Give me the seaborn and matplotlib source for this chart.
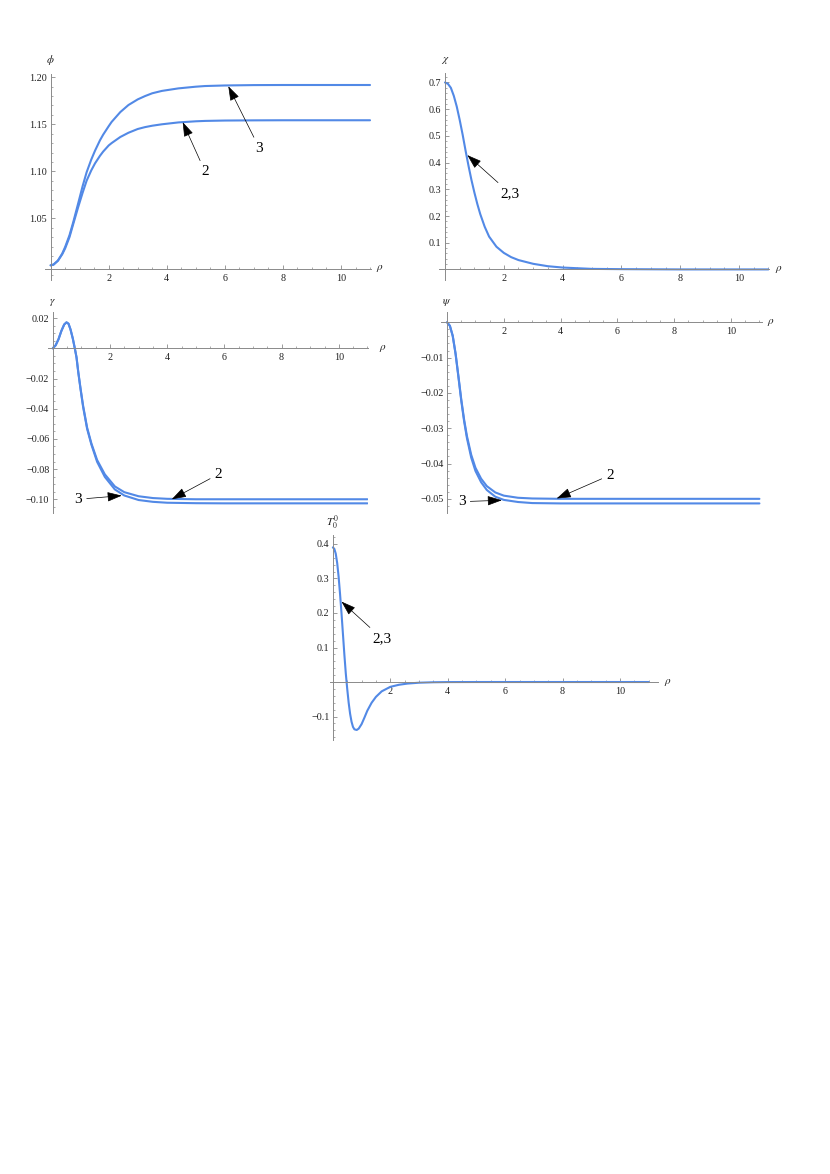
import matplotlib
matplotlib.use("Agg")
import numpy as np
import pandas as pd
import matplotlib.pyplot as plt
import seaborn as sns

# ---------------- data ----------------
rho_phi = [0, 0.1, 0.25, 0.4, 0.5, 0.65, 0.78, 0.95, 1.1, 1.24, 1.4, 1.53, 1.7, 1.81,
           2.0, 2.1, 2.4, 2.68, 3.0, 3.25, 3.5, 3.83, 4.4, 5.0, 5.32, 6.0, 7.0, 8.0,
           9.0, 10.0, 11.0]
phi_3 = [1.0000, 1.0008, 1.0050, 1.0125, 1.0195, 1.0320, 1.0460, 1.0660, 1.0840, 1.0990,
         1.1125, 1.1220, 1.1330, 1.1390, 1.1480, 1.1525, 1.1630, 1.1705, 1.1765, 1.1800,
         1.1830, 1.1855, 1.1882, 1.1900, 1.1907, 1.1913, 1.1917, 1.1918, 1.1918, 1.1918,
         1.1918]
phi_2 = [1.0000, 1.0008, 1.0048, 1.0118, 1.0180, 1.0300, 1.0440, 1.0620, 1.0770, 1.0900,
         1.1010, 1.1085, 1.1165, 1.1210, 1.1275, 1.1300, 1.1365, 1.1410, 1.1450, 1.1470,
         1.1485, 1.1500, 1.1520, 1.1532, 1.1536, 1.1540, 1.1542, 1.1543, 1.1543, 1.1543,
         1.1543]

rho_chi = [0, 0.1, 0.2, 0.3, 0.4, 0.5, 0.6, 0.7, 0.8, 0.9, 1.0, 1.1, 1.2, 1.35, 1.5,
           1.75, 2.0, 2.25, 2.5, 3.0, 3.5, 4.0, 5.0, 6.0, 8.0, 11.0]
chi_23 = [0.700, 0.695, 0.680, 0.650, 0.610, 0.560, 0.505, 0.445, 0.388, 0.335, 0.288,
          0.245, 0.207, 0.160, 0.123, 0.085, 0.062, 0.046, 0.035, 0.021, 0.012, 0.007,
          0.002, 0.001, 0.0, 0.0]

rho_gamma = [0, 0.1, 0.2, 0.3, 0.4, 0.48, 0.55, 0.62, 0.7, 0.77, 0.83, 0.89, 0.97, 1.06,
             1.2, 1.35, 1.55, 1.82, 2.17, 2.5, 3.0, 3.5, 4.0, 5.0, 6.0, 8.0, 11.0]
gamma_2 = [0, 0.002, 0.006, 0.0115, 0.0158, 0.0172, 0.0163, 0.0125, 0.0065, 0.0, -0.006,
           -0.0155, -0.0265, -0.038, -0.0525, -0.063, -0.074, -0.0835, -0.0915, -0.0953,
           -0.0980, -0.0992, -0.0997, -0.1000, -0.1000, -0.1000, -0.1000]
gamma_3 = [0, 0.002, 0.006, 0.0115, 0.0158, 0.0172, 0.0163, 0.0125, 0.0065, 0.0, -0.006,
           -0.0157, -0.027, -0.0388, -0.0533, -0.0638, -0.0752, -0.0852, -0.0935, -0.0975,
           -0.1005, -0.1017, -0.1023, -0.1026, -0.1027, -0.1027, -0.1027]

rho_psi = [0, 0.1, 0.2, 0.3, 0.4, 0.5, 0.6, 0.7, 0.85, 1.0, 1.2, 1.4, 1.7, 2.0, 2.5, 3.0,
           4.0, 5.0, 6.0, 8.0, 11.0]
psi_2 = [0, -0.0010, -0.0038, -0.0088, -0.0152, -0.0218, -0.0275, -0.0322, -0.0375,
         -0.0412, -0.0443, -0.0464, -0.0482, -0.0491, -0.0497, -0.0499, -0.0500, -0.0500,
         -0.0500, -0.0500, -0.0500]
psi_3 = [0, -0.0010, -0.0039, -0.0090, -0.0155, -0.0222, -0.0280, -0.0328, -0.0383,
         -0.0421, -0.0453, -0.0475, -0.0494, -0.0503, -0.0509, -0.0512, -0.0513, -0.0513,
         -0.0513, -0.0513, -0.0513]

rho_T = [0, 0.05, 0.1, 0.15, 0.2, 0.25, 0.3, 0.35, 0.4, 0.45, 0.5, 0.55, 0.6, 0.65, 0.7,
         0.75, 0.83, 0.9, 1.0, 1.1, 1.2, 1.35, 1.5, 1.7, 2.0, 2.3, 2.6, 3.0, 3.5, 4.0, 5.0,
         6.0, 8.0, 11.0]
T_23 = [0.39, 0.386, 0.372, 0.345, 0.305, 0.255, 0.2, 0.14, 0.08, 0.025, -0.02, -0.06,
        -0.092, -0.115, -0.13, -0.137, -0.139, -0.135, -0.122, -0.103, -0.083, -0.06,
        -0.043, -0.027, -0.014, -0.008, -0.0045, -0.002, -0.0007, -0.0002, 0, 0, 0, 0]

x_major = [2, 4, 6, 8, 10]
x_major_labels = ["2", "4", "6", "8", "10"]

phi_major = [1.05, 1.10, 1.15, 1.20]
phi_labels = ["1.05", "1.10", "1.15", "1.20"]
chi_major = [0.1, 0.2, 0.3, 0.4, 0.5, 0.6, 0.7]
chi_labels = ["0.1", "0.2", "0.3", "0.4", "0.5", "0.6", "0.7"]
gamma_major = [0.02, -0.02, -0.04, -0.06, -0.08, -0.10]
gamma_labels = ["0.02", "\u22120.02", "\u22120.04", "\u22120.06", "\u22120.08", "\u22120.10"]
psi_major = [-0.01, -0.02, -0.03, -0.04, -0.05]
psi_labels = ["\u22120.01", "\u22120.02", "\u22120.03", "\u22120.04", "\u22120.05"]
T_major = [0.4, 0.3, 0.2, 0.1, -0.1]
T_labels = ["0.4", "0.3", "0.2", "0.1", "\u22120.1"]

# ---------------- style ----------------
sns.set_style("white")
plt.rcParams["font.family"] = ["Liberation Serif", "DejaVu Serif"]
plt.rcParams["mathtext.fontset"] = "stix"

LINE = "#5289E6"
AXIS = "#8a8a8a"
W, H = 830, 1174

fig = plt.figure(figsize=(W / 100, H / 100), dpi=100)
fig.patch.set_facecolor("white")


def make_axes(left, right, top, bottom, xlim, ylim, xaxis_y, ymajor, ylabels, yminor,
              ylab, ylab_dy=5, xlab_dx=4):
    ax = fig.add_axes([left / W, 1 - bottom / H, (right - left) / W, (bottom - top) / H])
    ax.set_xlim(*xlim)
    ax.set_ylim(*ylim)
    ax.patch.set_alpha(0)
    for s in ["top", "right"]:
        ax.spines[s].set_visible(False)
    ax.spines["left"].set_position(("data", 0))
    ax.spines["bottom"].set_position(("data", xaxis_y))
    for s in ["left", "bottom"]:
        ax.spines[s].set_color(AXIS)
        ax.spines[s].set_linewidth(0.7)
    ax.set_xticks(x_major)
    ax.set_xticklabels(x_major_labels)
    ax.set_xticks([v for v in np.arange(0.5, 11.01, 0.5) if v not in x_major], minor=True)
    ax.set_yticks(ymajor)
    ax.set_yticklabels(ylabels)
    ax.set_yticks(yminor, minor=True)
    ax.tick_params(which="both", direction="in", color=AXIS, labelsize=7.3,
                   labelcolor="#222222", bottom=True, left=True, top=False, right=False)
    ax.tick_params(which="major", length=3.2, width=0.6)
    ax.tick_params(which="minor", length=1.7, width=0.5)
    ax.tick_params(axis="x", pad=3.5)
    ax.tick_params(axis="y", pad=2.5)
    ax.grid(False)
    ax.annotate(r"$\rho$", xy=(1.0, xaxis_y), xycoords=("axes fraction", "data"),
                xytext=(xlab_dx, 0), textcoords="offset points", ha="left", va="center",
                fontsize=8, color="#222222")
    ax.annotate(ylab, xy=(0, 1.0), xycoords=("data", "axes fraction"),
                xytext=(0, ylab_dy), textcoords="offset points", ha="center", va="bottom",
                fontsize=8, color="#222222")
    return ax


def line(ax, x, y):
    sns.lineplot(x=x, y=y, ax=ax, color=LINE, linewidth=1.5, sort=False, estimator=None)


def arrow(ax, text, tip, pos):
    ax.annotate(text, xy=tip, xytext=pos, fontsize=11, ha="center", va="center",
                color="black",
                arrowprops=dict(arrowstyle="-|>,head_length=0.75,head_width=0.25",
                                color="black", lw=0.5, shrinkA=1, shrinkB=0,
                                mutation_scale=12))


# Panel 1: phi
ax1 = make_axes(45.1, 370.9, 74, 280, (-0.19, 11.03), (0.9844, 1.2035), 0.9961,
                phi_major, phi_labels, np.round(np.arange(0.99, 1.2001, 0.01), 3),
                r"$\phi$")
line(ax1, rho_phi, phi_3)
line(ax1, rho_phi, phi_2)
arrow(ax1, "3", (6.12, 1.1905), (7.19, 1.1245))
arrow(ax1, "2", (4.55, 1.1523), (5.32, 1.0996))

# Panel 2: chi
ax2 = make_axes(439.1, 769.0, 72.6, 280.1, (-0.2, 11.02), (-0.04, 0.737), 0.0,
                chi_major, chi_labels, np.round(np.arange(0.02, 0.7201, 0.02), 3),
                r"$\chi$")
line(ax2, rho_chi, chi_23)
arrow(ax2, "2,3", (0.76, 0.428), (2.21, 0.285))

# Panel 3: gamma
ax3 = make_axes(48.2, 368.3, 311.8, 512.7, (-0.16, 11.03), (-0.1089, 0.0242), 0.0,
                gamma_major, gamma_labels, np.round(np.arange(-0.105, 0.0201, 0.005), 4),
                r"$\gamma$", ylab_dy=3, xlab_dx=8)
line(ax3, rho_gamma, gamma_2)
line(ax3, rho_gamma, gamma_3)
arrow(ax3, "2", (4.16, -0.1000), (5.79, -0.0834))
arrow(ax3, "3", (2.41, -0.0976), (0.89, -0.1000))

# Panel 4: psi
ax4 = make_axes(440.8, 761.7, 311.7, 512.6, (-0.22, 11.08), (-0.0539, 0.003), 0.0,
                psi_major, psi_labels, np.round(np.arange(-0.052, 0.0001, 0.002), 4),
                r"$\psi$", ylab_dy=3)
line(ax4, rho_psi, psi_2)
line(ax4, rho_psi, psi_3)
arrow(ax4, "2", (3.86, -0.0499), (5.74, -0.0433))
arrow(ax4, "3", (1.93, -0.0504), (0.52, -0.0508))

# Panel 5: T
ax5 = make_axes(330.0, 658.2, 535, 740, (-0.1, 11.33), (-0.168, 0.426), 0.0,
                T_major, T_labels, np.round(np.arange(-0.16, 0.4201, 0.02), 3),
                r"$T_0^0$", ylab_dy=2)
line(ax5, rho_T, T_23)
arrow(ax5, "2,3", (0.30, 0.233), (1.70, 0.127))

fig.savefig("out.png", dpi=100, facecolor="white")
